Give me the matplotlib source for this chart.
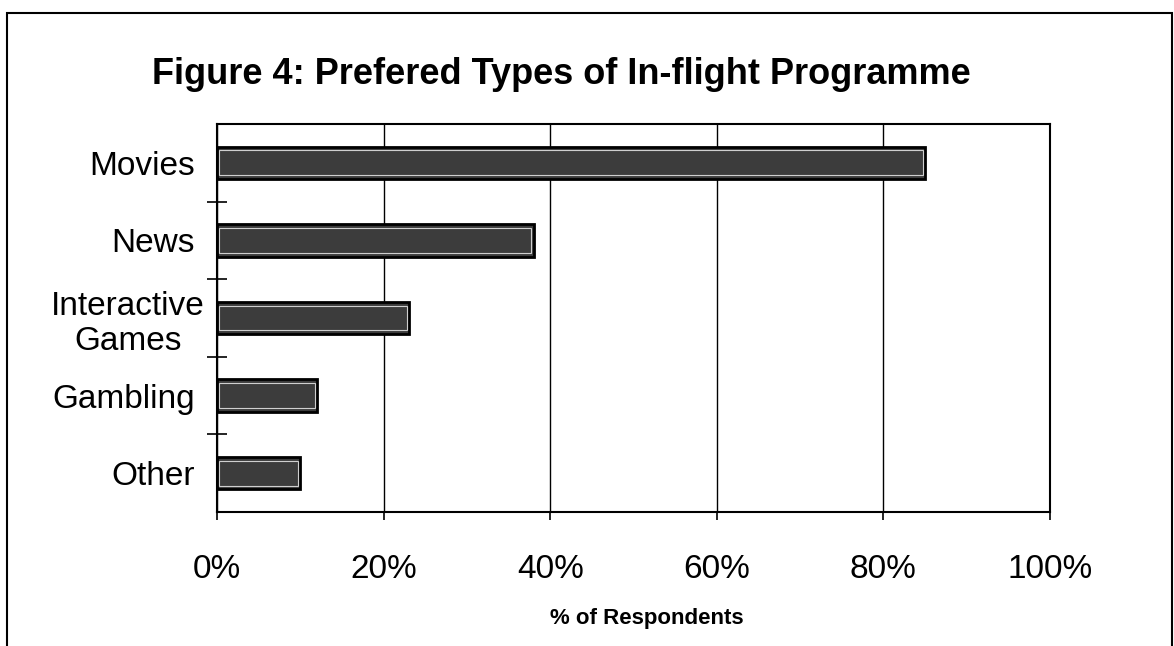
import matplotlib.pyplot as plt
from matplotlib.patches import Rectangle
from matplotlib.transforms import ScaledTranslation

categories = ['Movies', 'News', 'Interactive\nGames', 'Gambling', 'Other']
values = [85, 38, 23, 12, 10]
xticks = [0, 20, 40, 60, 80, 100]
xticklabels = ['0%', '20%', '40%', '60%', '80%', '100%']

plt.rcParams['font.family'] = ['Liberation Sans', 'DejaVu Sans']

W, H = 1174, 646
fig = plt.figure(figsize=(W / 100, H / 100), dpi=100)
ax = fig.add_axes([217 / W, 1 - 512 / H, (1050 - 217) / W, (512 - 124) / H])

# outer frame of the figure
fig.patches.append(Rectangle((7 / W, -0.05), (1172 - 7) / W, 1.05 - 13 / H,
                             transform=fig.transFigure, fill=False,
                             edgecolor='black', linewidth=1.5))

pos = list(range(len(categories)))
ax.barh(pos, values, height=0.42, color='#3c3c3c', edgecolor='black',
        linewidth=2, zorder=3)
ax.barh(pos, [v - 0.5 for v in values], left=0.25, height=0.32,
        color='none', edgecolor='#cfcfcf', linewidth=0.8, zorder=4)

ax.set_xlim(0, 100)
ax.set_ylim(len(categories) - 0.5, -0.5)
ax.set_xticks(xticks)
ax.set_xticklabels(xticklabels, fontsize=24)
ax.set_yticks(pos)
ax.set_yticklabels(categories, fontsize=24, linespacing=1.2)
ax.set_yticks([p + 0.5 for p in pos[:-1]], minor=True)
ax.tick_params(axis='y', which='major', length=0, pad=16)
ax.tick_params(axis='y', which='minor', length=14, direction='inout', width=1.2)
ax.tick_params(axis='x', length=6, width=1.2, direction='out', pad=24)
ax.grid(axis='x', color='black', linewidth=1, zorder=1)
for s in ax.spines.values():
    s.set_linewidth(1.5)

# two-line label is centred and sits a little closer to the axis
lbl = ax.get_yticklabels()[2]
lbl.set_multialignment('center')
lbl.set_transform(lbl.get_transform() + ScaledTranslation(0.1, 0, fig.dpi_scale_trans))

ax.set_xlabel('% of Respondents', fontsize=16, fontweight='bold')
ax.xaxis.set_label_coords(0.516, -0.247)
fig.text(561 / W, 1 - 75 / H, 'Figure 4: Prefered Types of In-flight Programme',
         ha='center', va='center', fontsize=26, fontweight='bold')

fig.savefig('out.png', dpi=100)
